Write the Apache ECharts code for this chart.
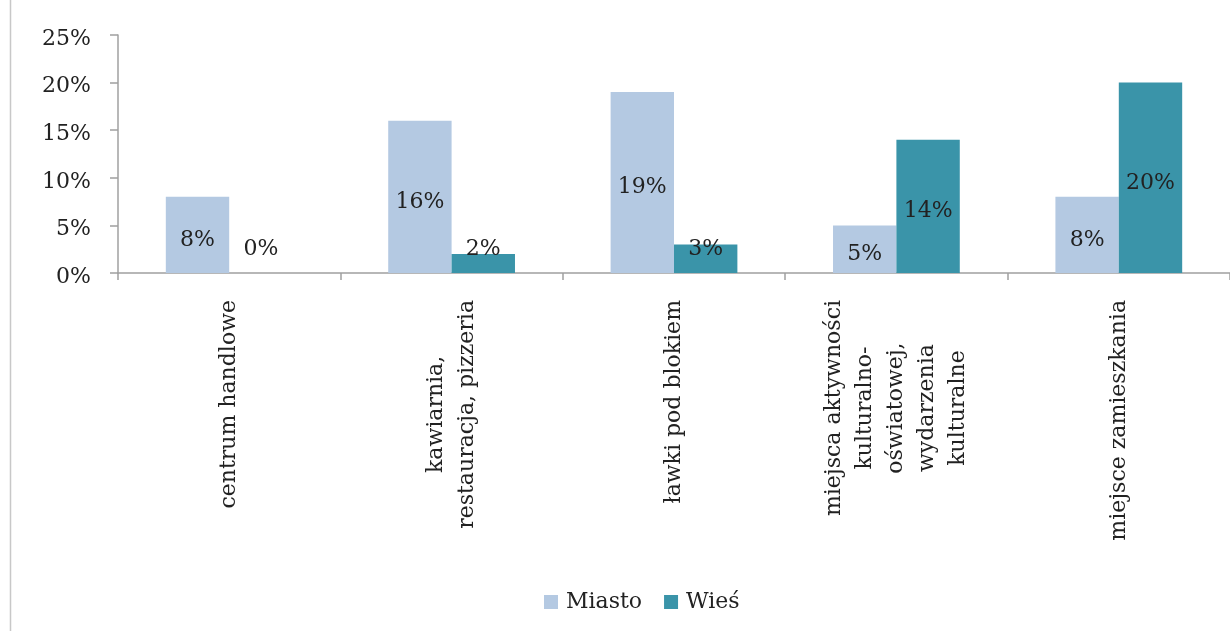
<!DOCTYPE html>
<html>
<head>
<meta charset="utf-8">
<script src="https://cdn.jsdelivr.net/npm/echarts@6/dist/echarts.min.js"></script>
<style>
html,body{margin:0;padding:0;background:#fff;}
#chart{width:1230px;height:631px;}
</style>
</head>
<body>
<div id="chart"></div>
<script>
const categories = [
  'centrum handlowe',
  'kawiarnia,\nrestauracja, pizzeria',
  'ławki pod blokiem',
  'miejsca aktywności\nkulturalno-\noświatowej,\nwydarzenia\nkulturalne',
  'miejsce zamieszkania'
];
const seriesNames = ['Miasto', 'Wieś'];
const miasto = [8, 16, 19, 5, 8];
const wies = [0, 2, 3, 14, 20];
const yTicks = [0, 5, 10, 15, 20, 25];

const FONT = 'DejaVu Serif';
const TXT = '#222';

function items(arr) {
  return arr.map(v => v < 5
    ? { value: v, label: { position: 'insideBottom', distance: 13, offset: [0, 0] } }
    : { value: v });
}

const chart = echarts.init(document.getElementById('chart'));
chart.setOption({
  animation: false,
  textStyle: { fontFamily: FONT },
  grid: { left: 118, right: 0, top: 35, bottom: 358, containLabel: false },
  legend: {
    left: 539, top: 586,
    itemWidth: 14, itemHeight: 14, itemGap: 22,
    icon: 'rect',
    textStyle: { fontFamily: FONT, fontSize: 22, color: TXT, padding: [0, 0, 0, 3] },
    data: seriesNames
  },
  xAxis: {
    type: 'category',
    data: categories,
    axisLine: { lineStyle: { color: '#a0a0a0', width: 1.5 } },
    axisTick: { show: true, length: 7, alignWithLabel: false, lineStyle: { color: '#a0a0a0', width: 1.5 } },
    axisLabel: {
      rotate: 90,
      interval: 0,
      margin: 27,
      formatter: v => v.split('\n').map(s => '{c|' + s + '}').join('\n'),
      rich: { c: { align: 'center', fontFamily: FONT, fontSize: 22, color: TXT, lineHeight: 31 } }
    }
  },
  yAxis: {
    type: 'value',
    min: yTicks[0], max: yTicks[yTicks.length - 1], interval: yTicks[1] - yTicks[0],
    axisLine: { show: true, lineStyle: { color: '#a0a0a0', width: 1.5 } },
    axisTick: { show: true, length: 8, lineStyle: { color: '#a0a0a0', width: 1.5 } },
    splitLine: { show: false },
    axisLabel: {
      margin: 27,
      formatter: v => '{y|' + v + '%}',
      rich: { y: { fontFamily: FONT, fontSize: 22, color: TXT, padding: [8, 0, 0, 0] } }
    }
  },
  series: [
    {
      name: seriesNames[0], type: 'bar', data: items(miasto),
      barGap: '0%', barCategoryGap: '43%',
      itemStyle: { color: '#b4c9e2' },
      label: { show: true, position: 'inside', offset: [0, 5], formatter: '{c}%', fontFamily: FONT, fontSize: 22, color: TXT }
    },
    {
      name: seriesNames[1], type: 'bar', data: items(wies),
      barGap: '0%', barCategoryGap: '43%',
      itemStyle: { color: '#3a94a9' },
      label: { show: true, position: 'inside', offset: [0, 5], formatter: '{c}%', fontFamily: FONT, fontSize: 22, color: TXT }
    }
  ],
  graphic: [{
    type: 'line', shape: { x1: 10.5, y1: 0, x2: 10.5, y2: 631 },
    style: { stroke: '#c8c8c8', lineWidth: 1.5 }
  }]
});
</script>
</body>
</html>
